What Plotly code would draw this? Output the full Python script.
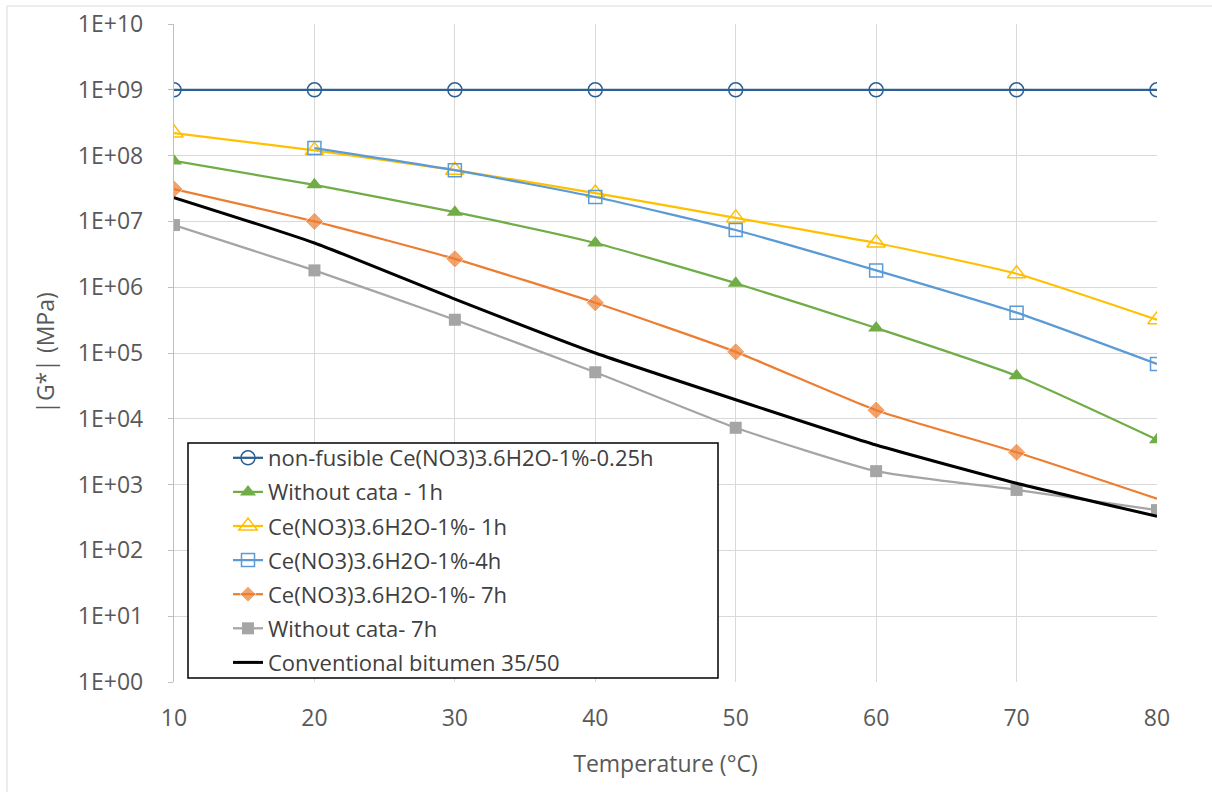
import plotly.graph_objects as go

# Test temperatures (°C)
temperature = [10, 20, 30, 40, 50, 60, 70, 80]

# |G*| values (MPa) per binder
non_fusible_025h = [1e9, 1e9, 1e9, 1e9, 1e9, 1e9, 1e9, 1e9]
without_cata_1h = [8.3e7, 3.6e7, 1.38e7, 4.7e6, 1.15e6, 2.4e5, 4.5e4, 4.8e3]
ce_1h = [2.2e8, 1.2e8, 6.0e7, 2.7e7, 1.13e7, 4.7e6, 1.6e6, 3.2e5]
ce_4h_temperature = [20, 30, 40, 50, 60, 70, 80]
ce_4h = [1.3e8, 6.0e7, 2.35e7, 7.4e6, 1.8e6, 4.1e5, 6.8e4]
ce_7h = [3.1e7, 1.0e7, 2.7e6, 5.8e5, 1.04e5, 1.35e4, 3.1e3, 6.1e2]
without_cata_7h = [8.8e6, 1.8e6, 3.2e5, 5.1e4, 7.3e3, 1.6e3, 8.3e2, 4.1e2]
bitumen_35_50 = [2.3e7, 4.7e6, 6.6e5, 1.0e5, 1.95e4, 4.0e3, 1.05e3, 3.3e2]

# Axis ticks
x_ticks = [10, 20, 30, 40, 50, 60, 70, 80]
y_tickvals = [1e0, 1e1, 1e2, 1e3, 1e4, 1e5, 1e6, 1e7, 1e8, 1e9, 1e10]
y_ticktext = ["1E+00", "1E+01", "1E+02", "1E+03", "1E+04", "1E+05",
              "1E+06", "1E+07", "1E+08", "1E+09", "1E+10"]

FONT = "Open Sans"
L, R, T, B = 174, 1157, 24, 682
W, H = 1212, 792


def px_to_paper(x, y):
    return (x - L) / (R - L), (B - y) / (B - T)


fig = go.Figure()

line_kw = dict(shape="spline", smoothing=0.5)

fig.add_trace(go.Scatter(
    x=temperature, y=non_fusible_025h, mode="lines+markers",
    name="non-fusible Ce(NO3)3.6H2O-1%-0.25h", legendgroup="a",
    line=dict(color="#2C5F93", width=2.25, **line_kw),
    marker=dict(symbol="circle-open", size=14, color="#2C5F93", line=dict(width=1.5)),
))
fig.add_trace(go.Scatter(
    x=temperature, y=without_cata_1h, mode="lines+markers",
    name="Without cata - 1h", legendgroup="b",
    line=dict(color="#70AD47", width=2.25, **line_kw),
    marker=dict(symbol="triangle-up", size=14, color="#70AD47"),
))
fig.add_trace(go.Scatter(
    x=temperature, y=ce_1h, mode="lines+markers",
    name="Ce(NO3)3.6H2O-1%- 1h", legendgroup="c",
    line=dict(color="#FFC000", width=2.25, **line_kw),
    marker=dict(symbol="triangle-up-open", size=16, color="#FFC000", line=dict(width=1.5)),
))
fig.add_trace(go.Scatter(
    x=ce_4h_temperature, y=ce_4h, mode="lines+markers",
    name="Ce(NO3)3.6H2O-1%-4h", legendgroup="d",
    line=dict(color="#5B9BD5", width=2.25, **line_kw),
    marker=dict(symbol="square-open", size=13, color="#5B9BD5", line=dict(width=1.5)),
))
fig.add_trace(go.Scatter(
    x=temperature, y=ce_7h, mode="lines+markers",
    name="Ce(NO3)3.6H2O-1%- 7h", legendgroup="e",
    line=dict(color="#ED7D31", width=2.25, **line_kw),
    marker=dict(symbol="diamond", size=[14, 14, 14, 14, 14, 14, 14, 0], color="#ED7D31"),
))
fig.add_trace(go.Scatter(
    x=temperature, y=without_cata_7h, mode="lines+markers",
    name="Without cata- 7h", legendgroup="f",
    line=dict(color="#A5A5A5", width=2.25, **line_kw),
    marker=dict(symbol="square", size=12, color="#A5A5A5"),
))
fig.add_trace(go.Scatter(
    x=temperature, y=bitumen_35_50, mode="lines",
    name="Conventional bitumen 35/50", legendgroup="g",
    line=dict(color="#000000", width=3, **line_kw),
))

# Legend frame and outer chart border
lx0, ly0 = px_to_paper(188, 678)
lx1, ly1 = px_to_paper(718, 443)
ox0, oy0 = px_to_paper(7, 800)
ox1, oy1 = px_to_paper(1220, 6)

fig.update_layout(
    width=W, height=H,
    margin=dict(l=L, r=W - R, t=T, b=H - B, autoexpand=False),
    paper_bgcolor="white", plot_bgcolor="white",
    font=dict(family=FONT, color="#595959"),
    showlegend=True,
    legend=dict(
        x=px_to_paper(228, 0)[0], y=px_to_paper(0, 437)[1],
        xanchor="left", yanchor="top",
        bgcolor="rgba(0,0,0,0)", borderwidth=0,
        font=dict(family=FONT, size=22, color="#404040"),
        itemwidth=30, traceorder="grouped", tracegroupgap=2.5,
    ),
    shapes=[
        dict(type="rect", xref="paper", yref="paper", x0=lx0, y0=ly0, x1=lx1, y1=ly1,
             line=dict(color="black", width=1.5), fillcolor="white", layer="above"),
        dict(type="rect", xref="paper", yref="paper", x0=ox0, y0=oy0, x1=ox1, y1=oy1,
             line=dict(color="#D9D9D9", width=1), layer="below"),
    ],
    xaxis=dict(
        range=[10, 80], tickvals=x_ticks, ticktext=[str(v) for v in x_ticks],
        showgrid=True, gridcolor="#D9D9D9", gridwidth=1.3,
        showline=False, zeroline=False, ticks="",
        tickfont=dict(family=FONT, size=23, color="#595959"),
        ticklabelstandoff=20,
        title=dict(text="Temperature (°C)", font=dict(family=FONT, size=23, color="#595959"),
                   standoff=23),
    ),
    yaxis=dict(
        type="log", range=[0, 10], tickvals=y_tickvals, ticktext=y_ticktext,
        showgrid=True, gridcolor="#D9D9D9", gridwidth=1.3,
        showline=True, linecolor="#BFBFBF", linewidth=1.3, zeroline=False,
        ticks="outside", ticklen=5, tickcolor="#BFBFBF",
        tickfont=dict(family=FONT, size=23, color="#595959"),
        ticklabelstandoff=20,
        title=dict(text="|G*| (MPa)", font=dict(family=FONT, size=23, color="#595959"),
                   standoff=16),
    ),
)

fig.write_html("out.html")
